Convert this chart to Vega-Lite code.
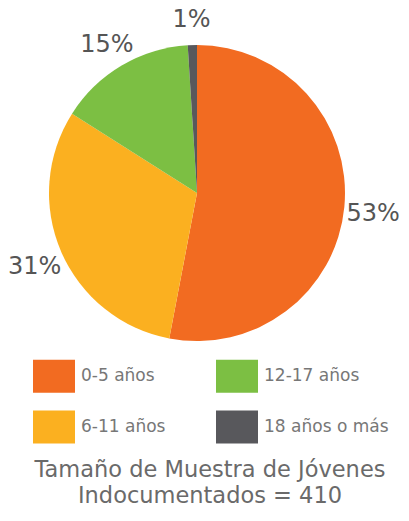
{
  "$schema": "https://vega.github.io/schema/vega-lite/v6.json",
  "width": 394,
  "height": 386,
  "autosize": {"type": "none"},
  "padding": {"left": 0, "top": 0, "right": 15, "bottom": 135},
  "background": "#ffffff",
  "config": {"view": {"stroke": null}},
  "title": {
    "text": ["Tamaño de Muestra de Jóvenes", "Indocumentados = 410"],
    "orient": "bottom",
    "anchor": "middle",
    "frame": "group",
    "dx": 13,
    "offset": 15,
    "font": "DejaVu Sans",
    "fontSize": 22.5,
    "fontWeight": "normal",
    "color": "#6a6a6a",
    "lineHeight": 26
  },
  "data": {
    "values": [
      {"grupo": "0-5 años", "pct": 53, "orden": 1, "etiqueta": "53%"},
      {"grupo": "6-11 años", "pct": 31, "orden": 2, "etiqueta": "31%"},
      {"grupo": "12-17 años", "pct": 15, "orden": 3, "etiqueta": "15%"},
      {"grupo": "18 años o más", "pct": 1, "orden": 4, "etiqueta": "1%"}
    ]
  },
  "encoding": {
    "theta": {"field": "pct", "type": "quantitative", "stack": true},
    "order": {"field": "orden", "type": "quantitative"}
  },
  "layer": [
    {
      "mark": {"type": "arc", "radius": 148, "stroke": null},
      "encoding": {
        "color": {
          "field": "grupo",
          "type": "nominal",
          "scale": {
            "domain": ["0-5 años", "6-11 años", "12-17 años", "18 años o más"],
            "range": ["#F26B21", "#FBB020", "#7CBF43", "#58585C"]
          },
          "legend": {
            "values": ["0-5 años", "12-17 años", "6-11 años", "18 años o más"],
            "title": null,
            "orient": "none",
            "legendX": 33,
            "legendY": 355,
            "direction": "horizontal",
            "columns": 2,
            "columnPadding": 50,
            "rowPadding": 13,
            "symbolType": "M-1,-0.786H1V0.786H-1Z",
            "symbolSize": 1764,
            "symbolStrokeWidth": 0,
            "symbolOpacity": 1,
            "labelFont": "DejaVu Sans",
            "labelFontSize": 17,
            "labelColor": "#777777",
            "labelOffset": 6,
            "labelLimit": 300
          }
        }
      }
    },
    {
      "mark": {"type": "text", "radius": 177, "font": "DejaVu Sans", "fontSize": 24, "color": "#555555", "align": "center", "baseline": "middle", "dy": 4},
      "encoding": {
        "text": {"field": "etiqueta", "type": "nominal"}
      }
    }
  ]
}
